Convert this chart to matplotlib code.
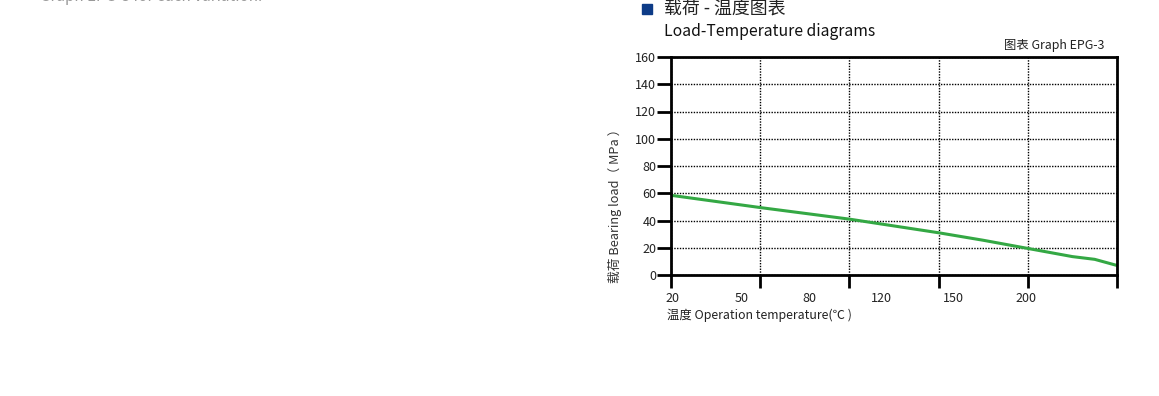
import numpy as np
import matplotlib.pyplot as plt
from matplotlib.patches import Rectangle

plt.rcParams['font.family'] = ['Noto Sans CJK SC', 'DejaVu Sans']

# 曲線の読み取り値 (x はグリッド区間単位 0..5)
curve_x = [0, 1, 2, 3, 3.5, 4, 4.5, 4.75, 5]
curve_load = [58.5, 49.5, 41, 31, 25.5, 19.5, 13.5, 11.5, 7]

temp_labels = ["20", "50", "80", "120", "150", "200"]
temp_label_pos = [0.02, 0.79, 1.55, 2.36, 3.17, 3.98]
grid_x = [0, 1, 2, 3, 4, 5]
load_ticks = [0, 20, 40, 60, 80, 100, 120, 140, 160]

W, H = 1159, 396
fig = plt.figure(figsize=(W / 100, H / 100), dpi=100)
ax = fig.add_axes([671 / W, 1 - 275 / H, (1117 - 671) / W, (275 - 57) / H])

ax.plot(curve_x, curve_load, color="#34a844", lw=2.2, solid_capstyle="butt")

ax.set_xlim(0, 5)
ax.set_ylim(0, 160)

# 目盛り
ax.set_xticks(grid_x)
ax.set_xticklabels([])
ax.set_xticks(temp_label_pos, minor=True)
ax.set_xticklabels(temp_labels, minor=True)
ax.tick_params(axis="x", which="major", direction="out", length=9.5, width=2, color="black")
ax.tick_params(axis="x", which="minor", length=0, pad=12, labelsize=9, labelcolor="#222222")
ax.set_yticks(load_ticks)
ax.tick_params(axis="y", direction="out", length=10, width=2, pad=0.5,
               labelsize=9, labelcolor="#222222")

for s in ax.spines.values():
    s.set_linewidth(2)
    s.set_color("black")

ax.grid(True, which="major", linestyle=(0, (1, 1)), color="black", lw=1)

# テキスト
fig.text(615 / W, 1 - 203 / H, "载荷 Bearing load（ MPa ）", rotation=90,
         ha="center", va="center", fontsize=9.2, color="#333333")
fig.text(667 / W, 1 - 315 / H, "温度 Operation temperature(℃ )",
         ha="left", va="center", fontsize=8.9, color="#222222")
fig.text(1104 / W, 1 - 45 / H, "图表 Graph EPG-3",
         ha="right", va="center", fontsize=8.9, color="#222222")
fig.text(664 / W, 1 - 9 / H, "载荷 - 温度图表",
         ha="left", va="center", fontsize=12.9, color="#222222")
fig.text(664 / W, 1 - 31 / H, "Load-Temperature diagrams",
         ha="left", va="center", fontsize=11.3, color="#111111")
fig.patches.append(Rectangle((642 / W, 1 - 14 / H), 10 / W, 10 / H,
                             transform=fig.transFigure, color="#0d3b87"))
# 上端で切れている本文の一部
fig.text(40 / W, 1 + 3.5 / H, "Graph EPG-3 for each variation.",
         ha="left", va="center", fontsize=11, color="#999999")

fig.savefig("out.png", dpi=100)
